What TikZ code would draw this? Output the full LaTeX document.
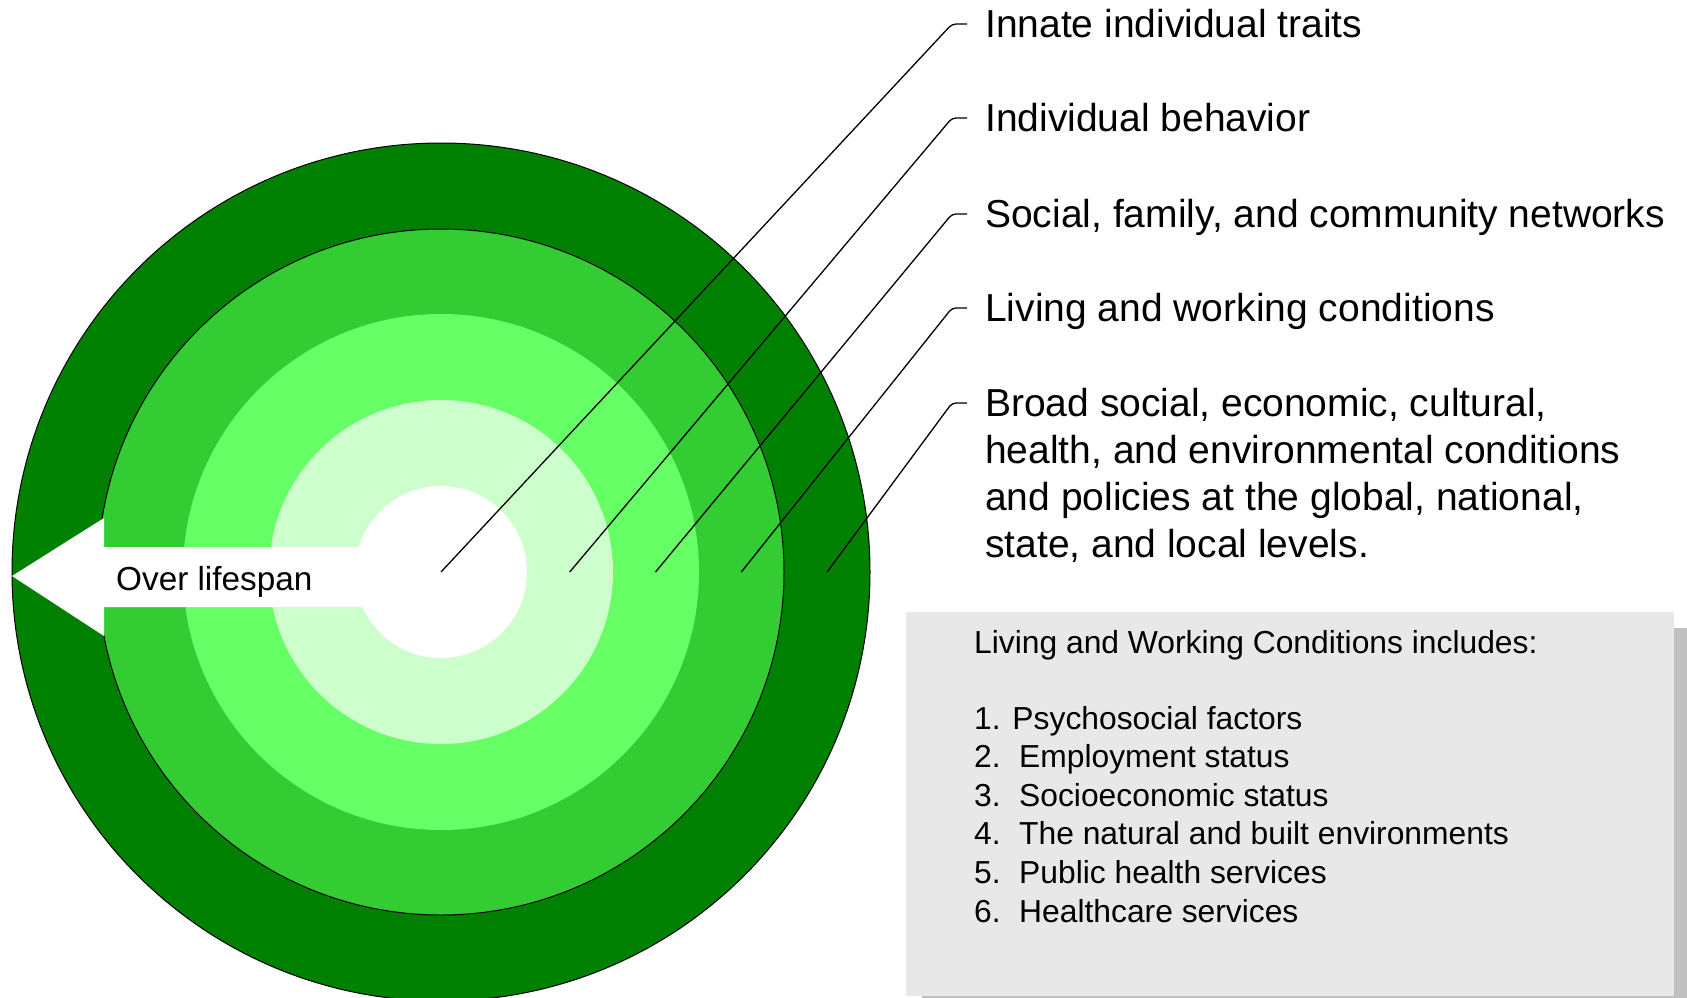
\documentclass[tikz,border=0pt]{standalone}
\usepackage{fontspec}
\setmainfont{Liberation Sans}
\usepackage{tikz}

\definecolor{ringdark}{HTML}{008000}
\definecolor{ringmid}{HTML}{33CC33}
\definecolor{ringlight}{HTML}{66FF66}
\definecolor{ringpale}{HTML}{CCFFCC}
\definecolor{boxgray}{HTML}{E8E8E8}
\definecolor{shadowgray}{HTML}{C0C0C0}

\begin{document}
\begin{tikzpicture}[x=1pt, y=-1pt,
    lbl/.style={anchor=base west, inner sep=0pt, font=\fontsize{39}{47}\selectfont},
    boxtxt/.style={anchor=base west, inner sep=0pt, font=\fontsize{31.8}{38}\selectfont},
    leader/.style={line width=1.3pt, rounded corners=4pt}]
    \clip (0,0) rectangle (1687,997);
    \fill[white] (0,0) rectangle (1687,997);
    \coordinate (c) at (441,572);
    \foreach \r/\col in {429/ringdark, 343/ringmid, 258/ringlight, 172/ringpale, 86/white}
        \fill[\col] (c) circle (\r pt);
    \draw[line width=1pt] (c) circle (429pt);
    \draw[line width=1pt] (c) circle (343pt);
    \fill[white] (12,576) -- (104,518) -- (104,547) -- (400,547) -- (400,607) -- (104,607) -- (104,636) -- cycle;
    \node[anchor=base west, inner sep=0pt, font=\fontsize{33.3}{40}\selectfont] (span) at (116,590) {Over lifespan};
    \foreach \i/\r/\y/\txt in {1/0/24/Innate individual traits, 2/128.7/118/Individual behavior,
            3/214.5/214/{Social, family, and community networks}, 4/300.3/308/Living and working conditions,
            5/386.1/403/{Broad social, economic, cultural,}}{
        \coordinate (s\i) at (441+\r,572);
        \coordinate (k\i) at (952,\y);
        \node[lbl] (l\i) at (985,\y+13) {\txt};
        \draw[leader] (s\i) -- (k\i) -- ([xshift=-18pt,yshift=13pt]l\i.base west);
    }
    \node[lbl] (l6) at ([yshift=-47pt]l5.base west) {health, and environmental conditions};
    \node[lbl] (l7) at ([yshift=-47pt]l6.base west) {and policies at the global, national,};
    \node[lbl] (l8) at ([yshift=-47pt]l7.base west) {state, and local levels.};
    \fill[shadowgray] (922,628) rectangle (1700,1012);
    \fill[boxgray] (906,612) rectangle (1674,996);
    \node[boxtxt] (head) at (974,653) {Living and Working Conditions includes:};
    \node[boxtxt] (item1) at (974,729) {1. Psychosocial factors};
    \foreach \n/\txt [count=\k from 1] in {2/Employment status, 3/Socioeconomic status,
            4/The natural and built environments, 5/Public health services, 6/Healthcare services}
        \node[boxtxt] (item\n) at (974,729+38.6*\k) {\makebox[45pt][l]{\n.}\txt};
\end{tikzpicture}
\end{document}
